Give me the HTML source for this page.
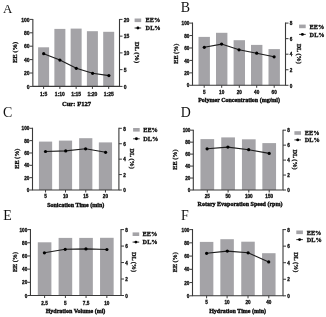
<!DOCTYPE html>
<html><head><meta charset="utf-8"><style>
html,body{margin:0;padding:0;background:#fff;}
body{width:326px;height:317px;overflow:hidden;}
svg{display:block;filter:blur(0.35px);}
text{stroke:#000;stroke-width:0.28px;}
text.S{stroke-width:0.36px;}
text.L{stroke:none;}
</style></head><body>
<svg width="326" height="317" viewBox="0 0 326 317">
<rect width="326" height="317" fill="#fff"/>
<text class="L" x="2.9" y="13.2" font-family='"Liberation Serif", serif' font-size="12.9" fill="#111">A</text>
<rect x="38.1" y="47.3" width="11" height="39.1" fill="#a4a3a7"/>
<rect x="54.37" y="28.9" width="11" height="57.5" fill="#a4a3a7"/>
<rect x="70.64" y="28.6" width="11" height="57.8" fill="#a4a3a7"/>
<rect x="86.9" y="31.2" width="11" height="55.2" fill="#a4a3a7"/>
<rect x="103.2" y="31.8" width="11" height="54.6" fill="#a4a3a7"/>
<path d="M32.85 18.9V86.9M32.35 86.4H120M119.5 18.9V86.9" stroke="#3a3a3a" stroke-width="1.1" fill="none"/>
<text x="29.65" y="88.5" text-anchor="end" font-family='"Liberation Sans", sans-serif' font-weight="bold" font-size="5.0" fill="#1a1a1a">0</text>
<text x="29.65" y="75.1" text-anchor="end" font-family='"Liberation Sans", sans-serif' font-weight="bold" font-size="5.0" fill="#1a1a1a">20</text>
<text x="29.65" y="61.7" text-anchor="end" font-family='"Liberation Sans", sans-serif' font-weight="bold" font-size="5.0" fill="#1a1a1a">40</text>
<text x="29.65" y="48.3" text-anchor="end" font-family='"Liberation Sans", sans-serif' font-weight="bold" font-size="5.0" fill="#1a1a1a">60</text>
<text x="29.65" y="34.9" text-anchor="end" font-family='"Liberation Sans", sans-serif' font-weight="bold" font-size="5.0" fill="#1a1a1a">80</text>
<text x="29.65" y="21.5" text-anchor="end" font-family='"Liberation Sans", sans-serif' font-weight="bold" font-size="5.0" fill="#1a1a1a">100</text>
<text x="123.8" y="88.6" font-family='"Liberation Sans", sans-serif' font-weight="bold" font-size="5.0" fill="#1a1a1a">0</text>
<text x="123.8" y="71.85" font-family='"Liberation Sans", sans-serif' font-weight="bold" font-size="5.0" fill="#1a1a1a">5</text>
<text x="123.8" y="55.1" font-family='"Liberation Sans", sans-serif' font-weight="bold" font-size="5.0" fill="#1a1a1a">10</text>
<text x="123.8" y="38.35" font-family='"Liberation Sans", sans-serif' font-weight="bold" font-size="5.0" fill="#1a1a1a">15</text>
<text x="123.8" y="21.6" font-family='"Liberation Sans", sans-serif' font-weight="bold" font-size="5.0" fill="#1a1a1a">20</text>
<path d="M29.85 86.4H32.85M29.85 73H32.85M29.85 59.6H32.85M29.85 46.2H32.85M29.85 32.8H32.85M29.85 19.4H32.85M119.5 86.4H122.5M119.5 69.65H122.5M119.5 52.9H122.5M119.5 36.15H122.5M119.5 19.4H122.5M43.6 86.4V88.9M59.87 86.4V88.9M76.14 86.4V88.9M92.4 86.4V88.9M108.7 86.4V88.9" stroke="#3a3a3a" stroke-width="1" fill="none"/>
<text x="43.6" y="95.95" text-anchor="middle" font-family='"Liberation Sans", sans-serif' font-weight="bold" font-size="5.0" fill="#1a1a1a">1:5</text>
<text x="59.87" y="95.95" text-anchor="middle" font-family='"Liberation Sans", sans-serif' font-weight="bold" font-size="5.0" fill="#1a1a1a">1:10</text>
<text x="76.14" y="95.95" text-anchor="middle" font-family='"Liberation Sans", sans-serif' font-weight="bold" font-size="5.0" fill="#1a1a1a">1:15</text>
<text x="92.4" y="95.95" text-anchor="middle" font-family='"Liberation Sans", sans-serif' font-weight="bold" font-size="5.0" fill="#1a1a1a">1:20</text>
<text x="108.7" y="95.95" text-anchor="middle" font-family='"Liberation Sans", sans-serif' font-weight="bold" font-size="5.0" fill="#1a1a1a">1:25</text>
<text class="S" x="76.5" y="105.5" text-anchor="middle" font-family='"Liberation Serif", serif' font-weight="bold" font-size="6.6" fill="#1a1a1a">Cur: F127</text>
<text transform="translate(17.1 52.4) rotate(-90)" text-anchor="middle" font-family='"Liberation Serif", serif' font-weight="bold" font-size="6.6" fill="#1a1a1a">EE (%)</text>
<text transform="translate(134.9 52.4) rotate(90)" text-anchor="middle" font-family='"Liberation Serif", serif' font-weight="bold" font-size="6.6" fill="#1a1a1a">DL (%)</text>
<polyline points="43.7,53.7 59.9,60.1 76.3,68.3 92.6,73.3 108.9,75.6" stroke="#1c1c1c" stroke-width="1.1" fill="none"/>
<circle cx="43.7" cy="53.7" r="1.6" fill="#000"/>
<circle cx="59.9" cy="60.1" r="1.6" fill="#000"/>
<circle cx="76.3" cy="68.3" r="1.6" fill="#000"/>
<circle cx="92.6" cy="73.3" r="1.6" fill="#000"/>
<circle cx="108.9" cy="75.6" r="1.6" fill="#000"/>
<rect x="134.6" y="18.5" width="6.6" height="3.6" fill="#a4a3a7"/>
<text x="145.6" y="22.1" font-family='"Liberation Serif", serif' font-weight="bold" font-size="6.3" fill="#1a1a1a">EE%</text>
<path d="M134.6 28H141.2" stroke="#1a1a1a" stroke-width="0.9"/>
<circle cx="137.9" cy="28" r="1.45" fill="#000"/>
<text x="145.6" y="30.2" font-family='"Liberation Serif", serif' font-weight="bold" font-size="6.3" fill="#1a1a1a">DL%</text>
<text class="L" x="180.8" y="11.9" font-family='"Liberation Serif", serif' font-size="13.9" fill="#111">B</text>
<rect x="198.5" y="36.9" width="11.4" height="48.4" fill="#a4a3a7"/>
<rect x="216" y="32.8" width="11.4" height="52.5" fill="#a4a3a7"/>
<rect x="233.6" y="40.2" width="11.4" height="45.1" fill="#a4a3a7"/>
<rect x="251" y="44.9" width="11.4" height="40.4" fill="#a4a3a7"/>
<rect x="268.5" y="49.1" width="11.4" height="36.2" fill="#a4a3a7"/>
<path d="M192.5 22.6V85.8M192 85.3H286M285.5 22.6V85.8" stroke="#3a3a3a" stroke-width="1.1" fill="none"/>
<text x="189.3" y="87.4" text-anchor="end" font-family='"Liberation Sans", sans-serif' font-weight="bold" font-size="4.65" fill="#1a1a1a">0</text>
<text x="189.3" y="74.96" text-anchor="end" font-family='"Liberation Sans", sans-serif' font-weight="bold" font-size="4.65" fill="#1a1a1a">20</text>
<text x="189.3" y="62.52" text-anchor="end" font-family='"Liberation Sans", sans-serif' font-weight="bold" font-size="4.65" fill="#1a1a1a">40</text>
<text x="189.3" y="50.08" text-anchor="end" font-family='"Liberation Sans", sans-serif' font-weight="bold" font-size="4.65" fill="#1a1a1a">60</text>
<text x="189.3" y="37.64" text-anchor="end" font-family='"Liberation Sans", sans-serif' font-weight="bold" font-size="4.65" fill="#1a1a1a">80</text>
<text x="189.3" y="25.2" text-anchor="end" font-family='"Liberation Sans", sans-serif' font-weight="bold" font-size="4.65" fill="#1a1a1a">100</text>
<text x="289.8" y="87.5" font-family='"Liberation Sans", sans-serif' font-weight="bold" font-size="4.65" fill="#1a1a1a">0</text>
<text x="289.8" y="71.95" font-family='"Liberation Sans", sans-serif' font-weight="bold" font-size="4.65" fill="#1a1a1a">2</text>
<text x="289.8" y="56.4" font-family='"Liberation Sans", sans-serif' font-weight="bold" font-size="4.65" fill="#1a1a1a">4</text>
<text x="289.8" y="40.85" font-family='"Liberation Sans", sans-serif' font-weight="bold" font-size="4.65" fill="#1a1a1a">6</text>
<text x="289.8" y="25.3" font-family='"Liberation Sans", sans-serif' font-weight="bold" font-size="4.65" fill="#1a1a1a">8</text>
<path d="M189.5 85.3H192.5M189.5 72.86H192.5M189.5 60.42H192.5M189.5 47.98H192.5M189.5 35.54H192.5M189.5 23.1H192.5M285.5 85.3H288.5M285.5 69.75H288.5M285.5 54.2H288.5M285.5 38.65H288.5M285.5 23.1H288.5M204.2 85.3V87.8M221.7 85.3V87.8M239.3 85.3V87.8M256.7 85.3V87.8M274.2 85.3V87.8" stroke="#3a3a3a" stroke-width="1" fill="none"/>
<text x="204.2" y="94.15" text-anchor="middle" font-family='"Liberation Sans", sans-serif' font-weight="bold" font-size="4.65" fill="#1a1a1a">5</text>
<text x="221.7" y="94.15" text-anchor="middle" font-family='"Liberation Sans", sans-serif' font-weight="bold" font-size="4.65" fill="#1a1a1a">10</text>
<text x="239.3" y="94.15" text-anchor="middle" font-family='"Liberation Sans", sans-serif' font-weight="bold" font-size="4.65" fill="#1a1a1a">20</text>
<text x="256.7" y="94.15" text-anchor="middle" font-family='"Liberation Sans", sans-serif' font-weight="bold" font-size="4.65" fill="#1a1a1a">40</text>
<text x="274.2" y="94.15" text-anchor="middle" font-family='"Liberation Sans", sans-serif' font-weight="bold" font-size="4.65" fill="#1a1a1a">60</text>
<text class="S" x="239.1" y="102.4" text-anchor="middle" font-family='"Liberation Serif", serif' font-weight="bold" font-size="6" fill="#1a1a1a">Polymer Concentration (mg/ml)</text>
<text transform="translate(177.6 53.7) rotate(-90)" text-anchor="middle" font-family='"Liberation Serif", serif' font-weight="bold" font-size="6.2" fill="#1a1a1a">EE (%)</text>
<text transform="translate(297 53.7) rotate(90)" text-anchor="middle" font-family='"Liberation Serif", serif' font-weight="bold" font-size="6.2" fill="#1a1a1a">DL (%)</text>
<polyline points="204.3,47.3 221.6,44.1 239,49.8 256.7,53.2 274.1,56.8" stroke="#1c1c1c" stroke-width="1.1" fill="none"/>
<circle cx="204.3" cy="47.3" r="1.6" fill="#000"/>
<circle cx="221.6" cy="44.1" r="1.6" fill="#000"/>
<circle cx="239" cy="49.8" r="1.6" fill="#000"/>
<circle cx="256.7" cy="53.2" r="1.6" fill="#000"/>
<circle cx="274.1" cy="56.8" r="1.6" fill="#000"/>
<rect x="299.1" y="24.6" width="6.6" height="3.6" fill="#a4a3a7"/>
<text x="309.6" y="28.5" font-family='"Liberation Serif", serif' font-weight="bold" font-size="6.3" fill="#1a1a1a">EE%</text>
<path d="M299.1 34.4H305.7" stroke="#1a1a1a" stroke-width="0.9"/>
<circle cx="302.4" cy="34.4" r="1.45" fill="#000"/>
<text x="309.6" y="36.6" font-family='"Liberation Serif", serif' font-weight="bold" font-size="6.3" fill="#1a1a1a">DL%</text>
<text class="L" x="2.9" y="117" font-family='"Liberation Serif", serif' font-size="13.9" fill="#111">C</text>
<rect x="38.95" y="141.6" width="13.2" height="48.4" fill="#a4a3a7"/>
<rect x="58.9" y="140.6" width="13.2" height="49.4" fill="#a4a3a7"/>
<rect x="79.15" y="138.2" width="13.2" height="51.8" fill="#a4a3a7"/>
<rect x="98.85" y="142.4" width="13.2" height="47.6" fill="#a4a3a7"/>
<path d="M32.5 127.8V190.5M32 190H119.4M118.9 127.8V190.5" stroke="#3a3a3a" stroke-width="1.1" fill="none"/>
<text x="29.3" y="192.1" text-anchor="end" font-family='"Liberation Sans", sans-serif' font-weight="bold" font-size="4.65" fill="#1a1a1a">0</text>
<text x="29.3" y="179.76" text-anchor="end" font-family='"Liberation Sans", sans-serif' font-weight="bold" font-size="4.65" fill="#1a1a1a">20</text>
<text x="29.3" y="167.42" text-anchor="end" font-family='"Liberation Sans", sans-serif' font-weight="bold" font-size="4.65" fill="#1a1a1a">40</text>
<text x="29.3" y="155.08" text-anchor="end" font-family='"Liberation Sans", sans-serif' font-weight="bold" font-size="4.65" fill="#1a1a1a">60</text>
<text x="29.3" y="142.74" text-anchor="end" font-family='"Liberation Sans", sans-serif' font-weight="bold" font-size="4.65" fill="#1a1a1a">80</text>
<text x="29.3" y="130.4" text-anchor="end" font-family='"Liberation Sans", sans-serif' font-weight="bold" font-size="4.65" fill="#1a1a1a">100</text>
<text x="123.2" y="192.2" font-family='"Liberation Sans", sans-serif' font-weight="bold" font-size="4.65" fill="#1a1a1a">0</text>
<text x="123.2" y="176.77" font-family='"Liberation Sans", sans-serif' font-weight="bold" font-size="4.65" fill="#1a1a1a">2</text>
<text x="123.2" y="161.35" font-family='"Liberation Sans", sans-serif' font-weight="bold" font-size="4.65" fill="#1a1a1a">4</text>
<text x="123.2" y="145.93" font-family='"Liberation Sans", sans-serif' font-weight="bold" font-size="4.65" fill="#1a1a1a">6</text>
<text x="123.2" y="130.5" font-family='"Liberation Sans", sans-serif' font-weight="bold" font-size="4.65" fill="#1a1a1a">8</text>
<path d="M29.5 190H32.5M29.5 177.66H32.5M29.5 165.32H32.5M29.5 152.98H32.5M29.5 140.64H32.5M29.5 128.3H32.5M118.9 190H121.9M118.9 174.57H121.9M118.9 159.15H121.9M118.9 143.73H121.9M118.9 128.3H121.9M45.55 190V192.5M65.5 190V192.5M85.75 190V192.5M105.45 190V192.5" stroke="#3a3a3a" stroke-width="1" fill="none"/>
<text x="45.55" y="198.35" text-anchor="middle" font-family='"Liberation Sans", sans-serif' font-weight="bold" font-size="4.65" fill="#1a1a1a">5</text>
<text x="65.5" y="198.35" text-anchor="middle" font-family='"Liberation Sans", sans-serif' font-weight="bold" font-size="4.65" fill="#1a1a1a">10</text>
<text x="85.75" y="198.35" text-anchor="middle" font-family='"Liberation Sans", sans-serif' font-weight="bold" font-size="4.65" fill="#1a1a1a">15</text>
<text x="105.45" y="198.35" text-anchor="middle" font-family='"Liberation Sans", sans-serif' font-weight="bold" font-size="4.65" fill="#1a1a1a">20</text>
<text class="S" x="75.7" y="207.2" text-anchor="middle" font-family='"Liberation Serif", serif' font-weight="bold" font-size="6" fill="#1a1a1a">Sonication Time (min)</text>
<text transform="translate(18.5 158.65) rotate(-90)" text-anchor="middle" font-family='"Liberation Serif", serif' font-weight="bold" font-size="6.2" fill="#1a1a1a">EE (%)</text>
<text transform="translate(130.1 158.65) rotate(90)" text-anchor="middle" font-family='"Liberation Serif", serif' font-weight="bold" font-size="6.2" fill="#1a1a1a">DL (%)</text>
<polyline points="45.5,151.5 65.7,150.9 85.6,148.8 105.6,152.3" stroke="#1c1c1c" stroke-width="1.1" fill="none"/>
<circle cx="45.5" cy="151.5" r="1.6" fill="#000"/>
<circle cx="65.7" cy="150.9" r="1.6" fill="#000"/>
<circle cx="85.6" cy="148.8" r="1.6" fill="#000"/>
<circle cx="105.6" cy="152.3" r="1.6" fill="#000"/>
<rect x="133.1" y="128" width="6.6" height="3.6" fill="#a4a3a7"/>
<text x="143.2" y="132.1" font-family='"Liberation Serif", serif' font-weight="bold" font-size="6.3" fill="#1a1a1a">EE%</text>
<path d="M133.1 138.8H139.7" stroke="#1a1a1a" stroke-width="0.9"/>
<circle cx="136.4" cy="138.8" r="1.45" fill="#000"/>
<text x="143.2" y="141" font-family='"Liberation Serif", serif' font-weight="bold" font-size="6.3" fill="#1a1a1a">DL%</text>
<text class="L" x="180.8" y="116.9" font-family='"Liberation Serif", serif' font-size="13.9" fill="#111">D</text>
<rect x="200.45" y="139.1" width="13.7" height="50.9" fill="#a4a3a7"/>
<rect x="221.25" y="137.4" width="13.7" height="52.6" fill="#a4a3a7"/>
<rect x="241.95" y="139.3" width="13.7" height="50.7" fill="#a4a3a7"/>
<rect x="262.35" y="143.1" width="13.7" height="46.9" fill="#a4a3a7"/>
<path d="M193.3 129.7V190.5M192.8 190H283.5M283 129.7V190.5" stroke="#3a3a3a" stroke-width="1.1" fill="none"/>
<text x="190.4" y="192.1" text-anchor="end" font-family='"Liberation Sans", sans-serif' font-weight="bold" font-size="4.65" fill="#1a1a1a">0</text>
<text x="190.4" y="180.14" text-anchor="end" font-family='"Liberation Sans", sans-serif' font-weight="bold" font-size="4.65" fill="#1a1a1a">20</text>
<text x="190.4" y="168.18" text-anchor="end" font-family='"Liberation Sans", sans-serif' font-weight="bold" font-size="4.65" fill="#1a1a1a">40</text>
<text x="190.4" y="156.22" text-anchor="end" font-family='"Liberation Sans", sans-serif' font-weight="bold" font-size="4.65" fill="#1a1a1a">60</text>
<text x="190.4" y="144.26" text-anchor="end" font-family='"Liberation Sans", sans-serif' font-weight="bold" font-size="4.65" fill="#1a1a1a">80</text>
<text x="190.4" y="132.3" text-anchor="end" font-family='"Liberation Sans", sans-serif' font-weight="bold" font-size="4.65" fill="#1a1a1a">100</text>
<text x="287.3" y="192.2" font-family='"Liberation Sans", sans-serif' font-weight="bold" font-size="4.65" fill="#1a1a1a">0</text>
<text x="287.3" y="177.25" font-family='"Liberation Sans", sans-serif' font-weight="bold" font-size="4.65" fill="#1a1a1a">2</text>
<text x="287.3" y="162.3" font-family='"Liberation Sans", sans-serif' font-weight="bold" font-size="4.65" fill="#1a1a1a">4</text>
<text x="287.3" y="147.35" font-family='"Liberation Sans", sans-serif' font-weight="bold" font-size="4.65" fill="#1a1a1a">6</text>
<text x="287.3" y="132.4" font-family='"Liberation Sans", sans-serif' font-weight="bold" font-size="4.65" fill="#1a1a1a">8</text>
<path d="M190.3 190H193.3M190.3 178.04H193.3M190.3 166.08H193.3M190.3 154.12H193.3M190.3 142.16H193.3M190.3 130.2H193.3M283 190H286M283 175.05H286M283 160.1H286M283 145.15H286M283 130.2H286M207.3 190V192.5M228.1 190V192.5M248.8 190V192.5M269.2 190V192.5" stroke="#3a3a3a" stroke-width="1" fill="none"/>
<text x="207.3" y="198.35" text-anchor="middle" font-family='"Liberation Sans", sans-serif' font-weight="bold" font-size="4.65" fill="#1a1a1a">25</text>
<text x="228.1" y="198.35" text-anchor="middle" font-family='"Liberation Sans", sans-serif' font-weight="bold" font-size="4.65" fill="#1a1a1a">50</text>
<text x="248.8" y="198.35" text-anchor="middle" font-family='"Liberation Sans", sans-serif' font-weight="bold" font-size="4.65" fill="#1a1a1a">100</text>
<text x="269.2" y="198.35" text-anchor="middle" font-family='"Liberation Sans", sans-serif' font-weight="bold" font-size="4.65" fill="#1a1a1a">150</text>
<text class="S" x="240" y="206.2" text-anchor="middle" font-family='"Liberation Serif", serif' font-weight="bold" font-size="6" fill="#1a1a1a">Rotary Evaporation Speed (rpm)</text>
<text transform="translate(177.4 159.6) rotate(-90)" text-anchor="middle" font-family='"Liberation Serif", serif' font-weight="bold" font-size="6.2" fill="#1a1a1a">EE (%)</text>
<text transform="translate(293.4 159.6) rotate(90)" text-anchor="middle" font-family='"Liberation Serif", serif' font-weight="bold" font-size="6.2" fill="#1a1a1a">DL (%)</text>
<polyline points="207.1,148.8 227.9,147.1 248.7,149.7 269.2,153.4" stroke="#1c1c1c" stroke-width="1.1" fill="none"/>
<circle cx="207.1" cy="148.8" r="1.6" fill="#000"/>
<circle cx="227.9" cy="147.1" r="1.6" fill="#000"/>
<circle cx="248.7" cy="149.7" r="1.6" fill="#000"/>
<circle cx="269.2" cy="153.4" r="1.6" fill="#000"/>
<rect x="294.4" y="131.2" width="6.6" height="3.6" fill="#a4a3a7"/>
<text x="304.8" y="135.3" font-family='"Liberation Serif", serif' font-weight="bold" font-size="6.3" fill="#1a1a1a">EE%</text>
<path d="M294.4 139.9H301" stroke="#1a1a1a" stroke-width="0.9"/>
<circle cx="297.7" cy="139.9" r="1.45" fill="#000"/>
<text x="304.8" y="142.1" font-family='"Liberation Serif", serif' font-weight="bold" font-size="6.3" fill="#1a1a1a">DL%</text>
<text class="L" x="3.2" y="219.9" font-family='"Liberation Serif", serif' font-size="13.9" fill="#111">E</text>
<rect x="37.8" y="242.3" width="13.6" height="53.2" fill="#a4a3a7"/>
<rect x="58.6" y="237.9" width="13.6" height="57.6" fill="#a4a3a7"/>
<rect x="79.25" y="237.9" width="13.6" height="57.6" fill="#a4a3a7"/>
<rect x="100.05" y="237.8" width="13.6" height="57.7" fill="#a4a3a7"/>
<path d="M30.45 229.1V296M29.95 295.5H121.5M121 229.1V296" stroke="#3a3a3a" stroke-width="1.1" fill="none"/>
<text x="27.25" y="297.6" text-anchor="end" font-family='"Liberation Sans", sans-serif' font-weight="bold" font-size="4.65" fill="#1a1a1a">0</text>
<text x="27.25" y="284.42" text-anchor="end" font-family='"Liberation Sans", sans-serif' font-weight="bold" font-size="4.65" fill="#1a1a1a">20</text>
<text x="27.25" y="271.24" text-anchor="end" font-family='"Liberation Sans", sans-serif' font-weight="bold" font-size="4.65" fill="#1a1a1a">40</text>
<text x="27.25" y="258.06" text-anchor="end" font-family='"Liberation Sans", sans-serif' font-weight="bold" font-size="4.65" fill="#1a1a1a">60</text>
<text x="27.25" y="244.88" text-anchor="end" font-family='"Liberation Sans", sans-serif' font-weight="bold" font-size="4.65" fill="#1a1a1a">80</text>
<text x="27.25" y="231.7" text-anchor="end" font-family='"Liberation Sans", sans-serif' font-weight="bold" font-size="4.65" fill="#1a1a1a">100</text>
<text x="125.3" y="297.7" font-family='"Liberation Sans", sans-serif' font-weight="bold" font-size="4.65" fill="#1a1a1a">0</text>
<text x="125.3" y="281.22" font-family='"Liberation Sans", sans-serif' font-weight="bold" font-size="4.65" fill="#1a1a1a">2</text>
<text x="125.3" y="264.75" font-family='"Liberation Sans", sans-serif' font-weight="bold" font-size="4.65" fill="#1a1a1a">4</text>
<text x="125.3" y="248.27" font-family='"Liberation Sans", sans-serif' font-weight="bold" font-size="4.65" fill="#1a1a1a">6</text>
<text x="125.3" y="231.8" font-family='"Liberation Sans", sans-serif' font-weight="bold" font-size="4.65" fill="#1a1a1a">8</text>
<path d="M27.45 295.5H30.45M27.45 282.32H30.45M27.45 269.14H30.45M27.45 255.96H30.45M27.45 242.78H30.45M27.45 229.6H30.45M121 295.5H124M121 279.02H124M121 262.55H124M121 246.07H124M121 229.6H124M44.6 295.5V298M65.4 295.5V298M86.05 295.5V298M106.85 295.5V298" stroke="#3a3a3a" stroke-width="1" fill="none"/>
<text x="44.6" y="304.75" text-anchor="middle" font-family='"Liberation Sans", sans-serif' font-weight="bold" font-size="4.65" fill="#1a1a1a">2.5</text>
<text x="65.4" y="304.75" text-anchor="middle" font-family='"Liberation Sans", sans-serif' font-weight="bold" font-size="4.65" fill="#1a1a1a">5</text>
<text x="86.05" y="304.75" text-anchor="middle" font-family='"Liberation Sans", sans-serif' font-weight="bold" font-size="4.65" fill="#1a1a1a">7.5</text>
<text x="106.85" y="304.75" text-anchor="middle" font-family='"Liberation Sans", sans-serif' font-weight="bold" font-size="4.65" fill="#1a1a1a">10</text>
<text class="S" x="75.5" y="313.1" text-anchor="middle" font-family='"Liberation Serif", serif' font-weight="bold" font-size="6" fill="#1a1a1a">Hydration Volume (ml)</text>
<text transform="translate(16.5 262.05) rotate(-90)" text-anchor="middle" font-family='"Liberation Serif", serif' font-weight="bold" font-size="6.2" fill="#1a1a1a">EE (%)</text>
<text transform="translate(131.9 262.05) rotate(90)" text-anchor="middle" font-family='"Liberation Serif", serif' font-weight="bold" font-size="6.2" fill="#1a1a1a">DL (%)</text>
<polyline points="44.4,252.8 65.2,249.3 85.95,248.9 106.9,249.5" stroke="#1c1c1c" stroke-width="1.1" fill="none"/>
<circle cx="44.4" cy="252.8" r="1.6" fill="#000"/>
<circle cx="65.2" cy="249.3" r="1.6" fill="#000"/>
<circle cx="85.95" cy="248.9" r="1.6" fill="#000"/>
<circle cx="106.9" cy="249.5" r="1.6" fill="#000"/>
<rect x="132.6" y="232.4" width="6.6" height="3.6" fill="#a4a3a7"/>
<text x="142.6" y="236.1" font-family='"Liberation Serif", serif' font-weight="bold" font-size="6.3" fill="#1a1a1a">EE%</text>
<path d="M132.6 242.1H139.2" stroke="#1a1a1a" stroke-width="0.9"/>
<circle cx="135.9" cy="242.1" r="1.45" fill="#000"/>
<text x="142.6" y="244.3" font-family='"Liberation Serif", serif' font-weight="bold" font-size="6.3" fill="#1a1a1a">DL%</text>
<text class="L" x="180.9" y="219.7" font-family='"Liberation Serif", serif' font-size="13.9" fill="#111">F</text>
<rect x="199.85" y="241.9" width="13.5" height="53.9" fill="#a4a3a7"/>
<rect x="220.35" y="239.2" width="13.5" height="56.6" fill="#a4a3a7"/>
<rect x="241.25" y="241.7" width="13.5" height="54.1" fill="#a4a3a7"/>
<rect x="262.05" y="253.2" width="13.5" height="42.6" fill="#a4a3a7"/>
<path d="M192.5 229.1V296.3M192 295.8H283.5M283 229.1V296.3" stroke="#3a3a3a" stroke-width="1.1" fill="none"/>
<text x="189.3" y="297.9" text-anchor="end" font-family='"Liberation Sans", sans-serif' font-weight="bold" font-size="4.65" fill="#1a1a1a">0</text>
<text x="189.3" y="284.66" text-anchor="end" font-family='"Liberation Sans", sans-serif' font-weight="bold" font-size="4.65" fill="#1a1a1a">20</text>
<text x="189.3" y="271.42" text-anchor="end" font-family='"Liberation Sans", sans-serif' font-weight="bold" font-size="4.65" fill="#1a1a1a">40</text>
<text x="189.3" y="258.18" text-anchor="end" font-family='"Liberation Sans", sans-serif' font-weight="bold" font-size="4.65" fill="#1a1a1a">60</text>
<text x="189.3" y="244.94" text-anchor="end" font-family='"Liberation Sans", sans-serif' font-weight="bold" font-size="4.65" fill="#1a1a1a">80</text>
<text x="189.3" y="231.7" text-anchor="end" font-family='"Liberation Sans", sans-serif' font-weight="bold" font-size="4.65" fill="#1a1a1a">100</text>
<text x="287.3" y="298" font-family='"Liberation Sans", sans-serif' font-weight="bold" font-size="4.65" fill="#1a1a1a">0</text>
<text x="287.3" y="281.45" font-family='"Liberation Sans", sans-serif' font-weight="bold" font-size="4.65" fill="#1a1a1a">2</text>
<text x="287.3" y="264.9" font-family='"Liberation Sans", sans-serif' font-weight="bold" font-size="4.65" fill="#1a1a1a">4</text>
<text x="287.3" y="248.35" font-family='"Liberation Sans", sans-serif' font-weight="bold" font-size="4.65" fill="#1a1a1a">6</text>
<text x="287.3" y="231.8" font-family='"Liberation Sans", sans-serif' font-weight="bold" font-size="4.65" fill="#1a1a1a">8</text>
<path d="M189.5 295.8H192.5M189.5 282.56H192.5M189.5 269.32H192.5M189.5 256.08H192.5M189.5 242.84H192.5M189.5 229.6H192.5M283 295.8H286M283 279.25H286M283 262.7H286M283 246.15H286M283 229.6H286M206.6 295.8V298.3M227.1 295.8V298.3M248 295.8V298.3M268.8 295.8V298.3" stroke="#3a3a3a" stroke-width="1" fill="none"/>
<text x="206.6" y="304.45" text-anchor="middle" font-family='"Liberation Sans", sans-serif' font-weight="bold" font-size="4.65" fill="#1a1a1a">5</text>
<text x="227.1" y="304.45" text-anchor="middle" font-family='"Liberation Sans", sans-serif' font-weight="bold" font-size="4.65" fill="#1a1a1a">10</text>
<text x="248" y="304.45" text-anchor="middle" font-family='"Liberation Sans", sans-serif' font-weight="bold" font-size="4.65" fill="#1a1a1a">20</text>
<text x="268.8" y="304.45" text-anchor="middle" font-family='"Liberation Sans", sans-serif' font-weight="bold" font-size="4.65" fill="#1a1a1a">40</text>
<text class="S" x="237.6" y="313.1" text-anchor="middle" font-family='"Liberation Serif", serif' font-weight="bold" font-size="6" fill="#1a1a1a">Hydration Time (min)</text>
<text transform="translate(177.1 262.2) rotate(-90)" text-anchor="middle" font-family='"Liberation Serif", serif' font-weight="bold" font-size="6.2" fill="#1a1a1a">EE (%)</text>
<text transform="translate(294.2 262.2) rotate(90)" text-anchor="middle" font-family='"Liberation Serif", serif' font-weight="bold" font-size="6.2" fill="#1a1a1a">DL (%)</text>
<polyline points="206.6,253.3 227.3,251.1 248.1,252.8 268.7,261.9" stroke="#1c1c1c" stroke-width="1.1" fill="none"/>
<circle cx="206.6" cy="253.3" r="1.6" fill="#000"/>
<circle cx="227.3" cy="251.1" r="1.6" fill="#000"/>
<circle cx="248.1" cy="252.8" r="1.6" fill="#000"/>
<circle cx="268.7" cy="261.9" r="1.6" fill="#000"/>
<rect x="296.3" y="230.5" width="6.6" height="3.6" fill="#a4a3a7"/>
<text x="306.7" y="234.6" font-family='"Liberation Serif", serif' font-weight="bold" font-size="6.3" fill="#1a1a1a">EE%</text>
<path d="M296.3 239.6H302.9" stroke="#1a1a1a" stroke-width="0.9"/>
<circle cx="299.6" cy="239.6" r="1.45" fill="#000"/>
<text x="306.7" y="241.8" font-family='"Liberation Serif", serif' font-weight="bold" font-size="6.3" fill="#1a1a1a">DL%</text>
</svg>
</body></html>
